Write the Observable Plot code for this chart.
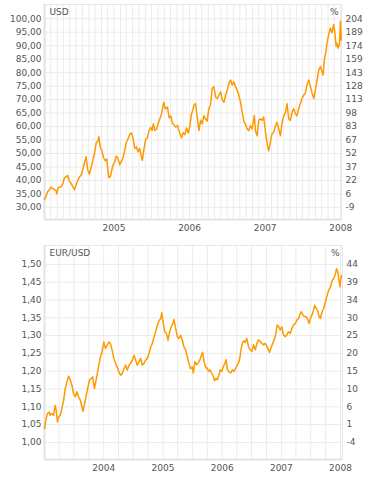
<!DOCTYPE html>
<html><head><meta charset="utf-8">
<script src="https://cdn.jsdelivr.net/npm/d3@7"></script>
<script src="https://cdn.jsdelivr.net/npm/@observablehq/plot@0.6"></script>
<style>
html,body{margin:0;padding:0;background:#fff;}
#chart svg{display:block;}
</style></head><body><div id="chart"></div>
<script>
// ---------- Top panel: oil price in USD ----------
const usdDates = ["2004-01-31","2004-02-07","2004-02-15","2004-02-23","2004-03-02","2004-03-10","2004-03-19","2004-03-27","2004-03-30","2004-04-07","2004-04-20","2004-04-28","2004-05-06","2004-05-14","2004-05-22","2004-05-30","2004-06-07","2004-06-15","2004-06-24","2004-07-02","2004-07-10","2004-07-18","2004-07-26","2004-08-03","2004-08-11","2004-08-19","2004-08-27","2004-09-04","2004-09-12","2004-09-20","2004-09-29","2004-10-07","2004-10-15","2004-10-20","2004-10-26","2004-11-03","2004-11-11","2004-11-19","2004-11-27","2004-12-02","2004-12-07","2004-12-15","2004-12-26","2005-01-04","2005-01-12","2005-01-20","2005-01-28","2005-02-05","2005-02-13","2005-02-21","2005-03-01","2005-03-09","2005-03-17","2005-03-25","2005-04-02","2005-04-11","2005-04-19","2005-04-27","2005-05-05","2005-05-13","2005-05-18","2005-05-26","2005-06-03","2005-06-11","2005-06-19","2005-06-27","2005-07-04","2005-07-10","2005-07-17","2005-07-25","2005-08-02","2005-08-10","2005-08-18","2005-08-29","2005-09-06","2005-09-16","2005-09-24","2005-10-02","2005-10-10","2005-10-18","2005-10-26","2005-11-04","2005-11-12","2005-11-23","2005-12-01","2005-12-09","2005-12-17","2005-12-25","2006-01-02","2006-01-10","2006-01-16","2006-01-22","2006-01-30","2006-02-04","2006-02-10","2006-02-15","2006-02-23","2006-03-03","2006-03-11","2006-03-19","2006-03-27","2006-04-04","2006-04-12","2006-04-20","2006-04-28","2006-05-07","2006-05-15","2006-05-23","2006-05-31","2006-06-08","2006-06-16","2006-06-24","2006-07-02","2006-07-10","2006-07-18","2006-07-26","2006-08-03","2006-08-11","2006-08-19","2006-08-27","2006-09-04","2006-09-12","2006-09-20","2006-09-28","2006-10-06","2006-10-14","2006-10-22","2006-10-30","2006-11-10","2006-11-15","2006-11-23","2006-12-01","2006-12-09","2006-12-17","2006-12-25","2006-12-30","2007-01-07","2007-01-14","2007-01-18","2007-01-26","2007-02-03","2007-02-11","2007-02-19","2007-02-27","2007-03-08","2007-03-16","2007-03-24","2007-04-01","2007-04-09","2007-04-17","2007-04-25","2007-05-03","2007-05-11","2007-05-19","2007-05-27","2007-06-04","2007-06-12","2007-06-20","2007-06-28","2007-07-06","2007-07-14","2007-07-22","2007-07-31","2007-08-08","2007-08-16","2007-08-24","2007-09-01","2007-09-09","2007-09-17","2007-09-25","2007-10-03","2007-10-08","2007-10-14","2007-10-22","2007-10-27","2007-11-04","2007-11-12","2007-11-20","2007-11-28","2007-12-03","2007-12-10","2007-12-14","2007-12-19","2007-12-26","2007-12-31","2008-01-04"];
const usdValues = [33.0,34.0,35.8,36.5,37.5,37.0,36.6,36.2,35.0,37.5,37.6,38.6,41.0,41.3,41.9,39.7,39.0,37.8,36.5,38.5,40.0,41.3,42.0,44.0,46.5,48.8,44.0,42.3,44.8,47.3,50.2,54.0,54.6,56.2,52.5,51.0,48.5,47.3,47.9,44.0,41.0,41.6,45.5,46.8,49.0,48.3,45.8,47.0,48.3,51.0,54.0,55.3,57.0,57.7,56.0,51.9,52.5,50.6,51.9,48.8,47.5,51.9,55.3,55.8,58.5,59.7,58.5,61.0,58.5,59.1,61.0,62.8,64.6,69.0,66.6,67.2,63.3,64.0,61.2,60.6,59.8,60.4,58.2,55.8,57.7,57.0,59.5,57.6,60.0,64.6,66.0,67.9,68.5,65.4,61.6,58.5,62.3,61.0,64.0,62.8,62.0,66.6,67.9,74.1,74.8,71.0,70.4,71.6,72.9,69.8,69.0,71.6,73.5,76.0,77.3,75.4,76.6,74.8,73.5,71.6,69.1,65.4,62.0,60.8,59.1,58.5,60.4,59.1,64.1,58.5,56.6,62.3,62.9,62.3,63.5,60.4,55.4,52.3,51.0,54.1,57.2,57.9,59.8,61.6,59.1,56.6,61.6,64.0,65.2,68.5,62.9,62.3,65.4,66.6,64.8,64.0,66.6,68.5,70.4,71.6,72.3,75.4,77.3,74.8,72.3,70.4,73.5,77.3,81.0,82.3,80.4,79.1,84.8,87.9,91.0,94.1,96.6,94.8,97.9,95.4,89.8,91.0,89.1,90.4,99.1,92.0];
const usdTicks = [30,35,40,45,50,55,60,65,70,75,80,85,90,95,100];
const usdPctLabels = ["-9","6","22","37","52","67","83","98","113","128","143","159","174","189","204"];
const usdYearTicks = ["2005-01-01","2006-01-01","2007-01-01","2008-01-01"];
const usdDomainX = ["2004-01-31","2008-01-05"];
const usdDomainY = [25.5,105.3];

// ---------- Bottom panel: EUR/USD ----------
const eurDates = ["2003-01-01","2003-01-11","2003-01-19","2003-01-30","2003-02-05","2003-02-15","2003-02-26","2003-03-08","2003-03-14","2003-03-22","2003-03-29","2003-04-08","2003-04-18","2003-04-29","2003-05-09","2003-05-19","2003-05-30","2003-06-09","2003-06-19","2003-06-29","2003-07-10","2003-07-20","2003-07-30","2003-08-10","2003-08-20","2003-08-26","2003-09-03","2003-09-14","2003-09-24","2003-10-05","2003-10-15","2003-10-25","2003-11-05","2003-11-11","2003-11-21","2003-12-02","2003-12-12","2003-12-22","2004-01-02","2004-01-12","2004-01-23","2004-02-02","2004-02-12","2004-02-22","2004-03-04","2004-03-14","2004-03-24","2004-04-04","2004-04-14","2004-04-24","2004-05-05","2004-05-15","2004-05-25","2004-06-05","2004-06-15","2004-06-25","2004-07-06","2004-07-16","2004-07-26","2004-08-06","2004-08-16","2004-08-26","2004-09-06","2004-09-16","2004-09-26","2004-10-07","2004-10-17","2004-10-27","2004-11-07","2004-11-17","2004-11-27","2004-12-08","2004-12-18","2004-12-24","2005-01-01","2005-01-11","2005-01-22","2005-02-01","2005-02-11","2005-02-21","2005-03-03","2005-03-09","2005-03-20","2005-03-30","2005-04-09","2005-04-20","2005-04-30","2005-05-10","2005-05-21","2005-05-31","2005-06-10","2005-06-20","2005-07-01","2005-07-07","2005-07-17","2005-07-27","2005-08-06","2005-08-16","2005-08-27","2005-09-02","2005-09-11","2005-09-23","2005-10-01","2005-10-08","2005-10-18","2005-10-28","2005-11-08","2005-11-14","2005-11-24","2005-12-02","2005-12-13","2005-12-19","2005-12-29","2006-01-08","2006-01-19","2006-01-25","2006-02-02","2006-02-12","2006-02-23","2006-03-05","2006-03-15","2006-03-26","2006-04-05","2006-04-15","2006-04-21","2006-04-28","2006-05-06","2006-05-12","2006-05-22","2006-06-02","2006-06-12","2006-06-23","2006-07-03","2006-07-13","2006-07-24","2006-08-03","2006-08-13","2006-08-24","2006-09-03","2006-09-13","2006-09-23","2006-10-04","2006-10-14","2006-10-20","2006-10-28","2006-11-08","2006-11-18","2006-11-28","2006-12-06","2006-12-15","2006-12-25","2007-01-04","2007-01-14","2007-01-25","2007-02-04","2007-02-14","2007-02-25","2007-03-07","2007-03-17","2007-03-28","2007-04-07","2007-04-17","2007-04-28","2007-05-04","2007-05-14","2007-05-24","2007-06-04","2007-06-14","2007-06-20","2007-06-29","2007-07-09","2007-07-19","2007-07-25","2007-08-05","2007-08-15","2007-08-21","2007-08-30","2007-09-09","2007-09-19","2007-09-30","2007-10-10","2007-10-20","2007-10-31","2007-11-10","2007-11-20","2007-12-01","2007-12-07","2007-12-15","2007-12-21","2007-12-28","2008-01-01","2008-01-07"];
const eurValues = [1.039,1.067,1.081,1.085,1.076,1.081,1.076,1.104,1.090,1.057,1.071,1.076,1.095,1.118,1.151,1.170,1.186,1.175,1.161,1.137,1.128,1.142,1.128,1.118,1.100,1.087,1.104,1.128,1.151,1.175,1.179,1.184,1.151,1.165,1.189,1.217,1.240,1.254,1.282,1.264,1.273,1.282,1.278,1.259,1.236,1.222,1.212,1.198,1.189,1.193,1.207,1.217,1.203,1.217,1.222,1.231,1.245,1.231,1.217,1.226,1.236,1.217,1.222,1.231,1.236,1.250,1.268,1.278,1.297,1.311,1.329,1.343,1.347,1.364,1.339,1.311,1.306,1.287,1.311,1.325,1.334,1.345,1.320,1.297,1.292,1.301,1.287,1.268,1.259,1.240,1.222,1.207,1.212,1.195,1.227,1.218,1.223,1.232,1.246,1.253,1.227,1.209,1.209,1.199,1.204,1.195,1.185,1.173,1.180,1.176,1.190,1.204,1.199,1.213,1.223,1.232,1.204,1.199,1.195,1.204,1.199,1.209,1.218,1.227,1.241,1.264,1.278,1.285,1.281,1.292,1.269,1.260,1.255,1.274,1.260,1.278,1.288,1.283,1.278,1.274,1.278,1.269,1.260,1.253,1.264,1.278,1.288,1.306,1.330,1.325,1.316,1.325,1.302,1.297,1.302,1.311,1.306,1.320,1.330,1.334,1.344,1.348,1.362,1.367,1.358,1.353,1.353,1.344,1.334,1.348,1.358,1.372,1.385,1.376,1.367,1.353,1.348,1.367,1.376,1.395,1.413,1.427,1.437,1.455,1.460,1.474,1.488,1.479,1.460,1.437,1.455,1.469];
const eurTicks = [1.00,1.05,1.10,1.15,1.20,1.25,1.30,1.35,1.40,1.45,1.50];
const eurPctLabels = ["-4","1","6","10","15","20","25","30","34","39","44"];
const eurYearTicks = ["2004-01-01","2005-01-01","2006-01-01","2007-01-01","2008-01-01"];
const eurDomainX = ["2003-01-01","2008-01-13"];
const eurDomainY = [0.952,1.553];

const LINE = "#ff9900";
const GRID = "#ebebeb";
const TEXT = "#555";

function panel(o) {
  const data = o.dates.map((d, i) => ({date: new Date(d), value: o.values[i]}));
  const dx = o.domainX.map(d => new Date(d));
  const gridDates = o.gridInterval.range(dx[0], new Date(+dx[1] + 1));
  const years = o.years.map(d => new Date(d));
  const fmt = v => v.toFixed(2).replace(".", ",");
  return Plot.plot({
    width: 386, height: 240,
    marginTop: o.mt, marginBottom: 21, marginLeft: 44, marginRight: o.mr,
    style: {fontFamily: "DejaVu Sans", fontSize: "9px", color: TEXT, background: "#fff"},
    x: {type: "utc", domain: dx},
    y: {domain: o.domainY},
    marks: [
      Plot.gridX({ticks: gridDates, stroke: GRID, strokeOpacity: 1}),
      Plot.gridY({ticks: o.ticks, stroke: GRID, strokeOpacity: 1}),
      Plot.frame({stroke: "#e6e6e6"}),
      Plot.ruleX([dx[0]], {stroke: "#e3e3e3", strokeWidth: 2}),
      Plot.ruleY([o.domainY[0]], {stroke: "#e3e3e3", strokeWidth: 2}),
      Plot.axisY({anchor: "left", ticks: o.ticks, tickFormat: fmt, tickSize: 0, tickPadding: 3, label: null, fill: TEXT}),
      Plot.axisY({anchor: "right", ticks: o.ticks, tickFormat: d => o.pct[o.ticks.indexOf(d)], tickSize: 0, tickPadding: 4, label: null, fill: TEXT}),
      Plot.axisX({ticks: years, tickFormat: d3.utcFormat("%Y"), tickSize: 0, tickPadding: 5, label: null, fill: TEXT}),
      Plot.line(data, {x: "date", y: "value", stroke: LINE, strokeWidth: 1.5}),
      Plot.text([o.title], {frameAnchor: "top-left", dx: 5, dy: 8, lineAnchor: "middle", textAnchor: "start", fill: TEXT}),
      Plot.text(["%"], {frameAnchor: "top-right", dx: -3, dy: 8, lineAnchor: "middle", textAnchor: "end", fill: TEXT})
    ]
  });
}

const root = document.getElementById("chart");
root.append(panel({
  dates: usdDates, values: usdValues, ticks: usdTicks, pct: usdPctLabels,
  years: usdYearTicks, domainX: usdDomainX, domainY: usdDomainY,
  gridInterval: d3.utcMonth, title: "USD", mt: 4, mr: 45
}));
root.append(panel({
  dates: eurDates, values: eurValues, ticks: eurTicks, pct: eurPctLabels,
  years: eurYearTicks, domainX: eurDomainX, domainY: eurDomainY,
  gridInterval: d3.utcMonth.every(3), title: "EUR/USD", mt: 5, mr: 44
}));
</script></body></html>
